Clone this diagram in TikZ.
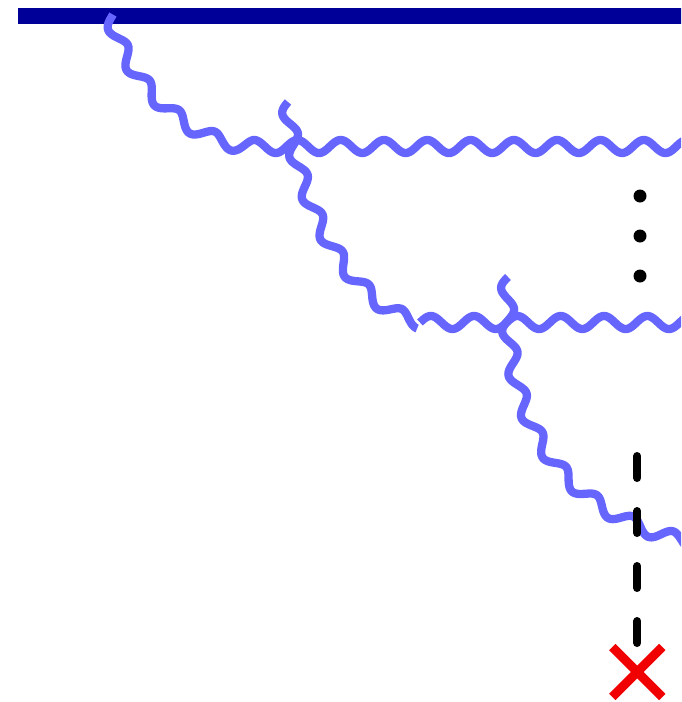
\documentclass[tikz,border=0pt]{standalone}
\usetikzlibrary{decorations}
\definecolor{gluon}{RGB}{102,102,255}
\definecolor{wall}{RGB}{0,0,153}
\definecolor{crossred}{RGB}{240,0,0}
\def\gwamp{6.5}
\def\gwlen{43.3}
\def\gwphase{0}
\pgfdeclaredecoration{gwave}{step}{
  \state{step}[width=1pt]{
    \pgfmathsetmacro\gwy{-\gwamp*sin(360*(\pgfdecoratedcompleteddistance/\gwlen)+\gwphase)}
    \ifdim\pgfdecoratedcompleteddistance<0.01pt
      \pgfpathmoveto{\pgfqpoint{0pt}{\gwy pt}}
    \else
      \pgfpathlineto{\pgfqpoint{0pt}{\gwy pt}}
    \fi
  }
  \state{final}{}
}
\begin{document}
\begin{tikzpicture}[x=1pt,y=-1pt,
  gwphase/.code={\def\gwphase{#1}},
  gluonline/.style={draw=gluon, line width=8.3pt, line join=round, line cap=butt,
    decorate, decoration=gwave},
  dotmark/.style={fill=black, circle, inner sep=0pt, minimum size=13pt},
  dashline/.style={black, line width=8pt, line cap=round, dash pattern=on 22pt off 33pt},
  crossline/.style={crossred, line width=9pt, line cap=butt}]
\useasboundingbox (0,0) rectangle (681,702);
\clip (0,0) rectangle (681,702);
% wall
\fill[wall] (18,8.3) rectangle (700,24);
% gluon lines
\coordinate (s1) at (111,15);
\coordinate (e1) at (720,146.5);
\coordinate (s2) at (288,102);
\coordinate (j2) at (420,322.5);
\coordinate (e2) at (720,322.5);
\coordinate (s3) at (508,277);
\coordinate (e3) at (720,548);
\draw[gluonline, gwphase=-18] (s1) .. controls (126,86) and (195,146.5) .. (253,146.5) -- (e1);
\draw[gluonline, gwphase=0] (s2) .. controls (292,190) and (345,305) .. (j2);
\draw[gluonline, gwphase=180] (j2) -- (e2);
\draw[gluonline, gwphase=0] (s3) .. controls (501,430) and (565,525) .. (e3);
% dots
\node[dotmark] (d1) at (640,196) {};
\node[dotmark] (d2) at (640,236) {};
\node[dotmark] (d3) at (640,276) {};
% dashed line to cross
\coordinate (dtop) at (637.3,456);
\coordinate (xc) at (637.3,672);
\draw[dashline] (dtop) -- (xc);
\draw[crossline] (xc) ++(-25,-25) -- ++(50,50);
\draw[crossline] (xc) ++(25,-25) -- ++(-50,50);
\end{tikzpicture}
\end{document}
